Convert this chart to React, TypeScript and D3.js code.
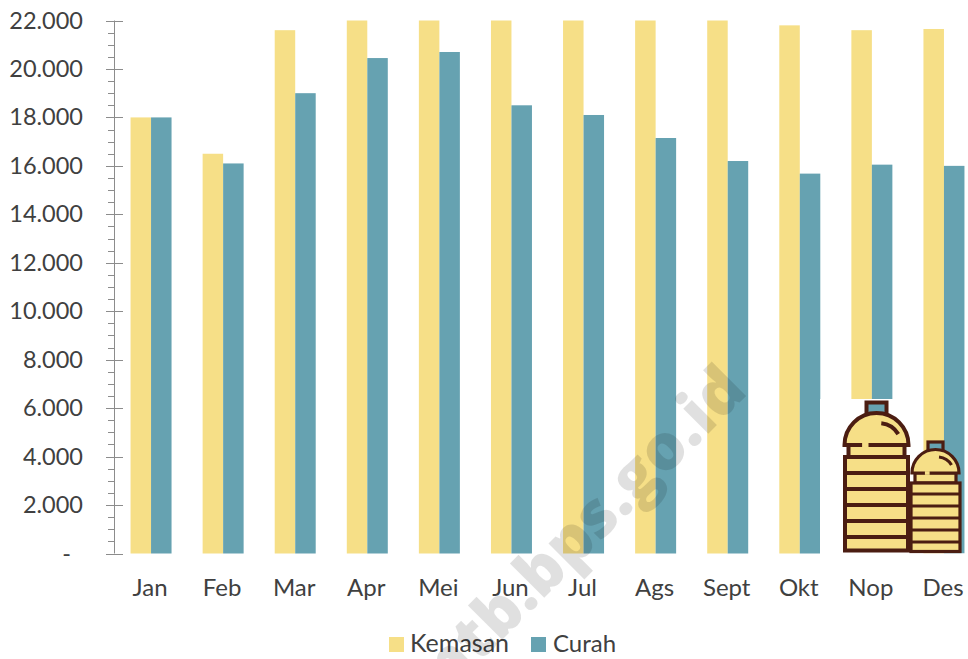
import React from "react";
import * as d3 from "d3";

const months = ["Jan","Feb","Mar","Apr","Mei","Jun","Jul","Ags","Sept","Okt","Nop","Des"];
const kemasan = [18000,16500,21600,22000,22000,22000,22000,22000,22000,21800,21600,21650];
const curah = [18000,16100,19000,20450,20700,18500,18100,17150,16200,15680,16050,16000];
const ticks = [0,2000,4000,6000,8000,10000,12000,14000,16000,18000,20000,22000];
const minor = d3.range(0,22001,500);
const YEL = "#f6df87", TEAL = "#66a2b1", TXT = "#404040", BR = "#4b1d12";
const FONT = "Lato, Carlito, sans-serif";

const y = d3.scaleLinear().domain([0,22000]).range([553.5,20.5]);
const x = d3.scaleBand<string>().domain(months).range([115,980]);
const fmt = (v:number)=> v===0 ? "-" : d3.format(",")(v).replace(",",".");

function Bottle({cx,capW,capT,domeB,domeR,neckW,bodyT,bodyB,bodyW,stripes,sw}:any){
  const capB = domeB-domeR;
  const bw=bodyW/2, nw=neckW/2;
  return <g stroke={BR} strokeWidth={sw} fill={YEL}>
    <rect x={cx-capW/2} y={capT} width={capW} height={capB-capT+2} fill={TEAL}/>
    <rect x={cx-nw} y={domeB} width={neckW} height={bodyT-domeB}/>
    <path d={`M${cx-domeR},${domeB} A${domeR},${domeR} 0 0 1 ${cx+domeR},${domeB} Z`}/>
    <path d={`M${cx+domeR*0.15},${capB+domeR*0.32} A${domeR*0.7},${domeR*0.7} 0 0 1 ${cx+domeR*0.68},${domeB-domeR*0.34}`} fill="none"/>
    <line x1={cx-domeR*0.45} x2={cx-domeR*0.25} y1={domeB} y2={domeB} stroke={YEL} strokeWidth={sw+0.5}/>
    <rect x={cx-bw} y={bodyT} width={bodyW} height={bodyB-bodyT}/>
    {stripes.map((s:number)=><line key={s} x1={cx-bw} x2={cx+bw} y1={s} y2={s}/>)}
  </g>;
}

export default function App(){
  const bw = 20.5;
  return <svg width={968} height={659} style={{position:"absolute",left:0,top:0,display:"block",fontFamily:FONT}}>
    <rect width={968} height={659} fill="#fff"/>
    {months.map((m,i)=>{
      const c = x(m)!+x.bandwidth()/2;
      return <g key={m}>
        <rect x={c-bw} y={y(kemasan[i])} width={bw} height={y(0)-y(kemasan[i])} fill={YEL}/>
        <rect x={c} y={y(curah[i])} width={bw} height={y(0)-y(curah[i])} fill={TEAL}/>
        <text x={c-1} y={596} textAnchor="middle" fontSize={24} fill={TXT}>{m}</text>
      </g>;
    })}
    <line x1={114.5} x2={114.5} y1={y(22000)} y2={y(0)} stroke="#8c8c8c" strokeWidth={1}/>
    {minor.map(v=>{
      const major = v%2000===0;
      return <line key={v} x1={major?106:108} x2={major?123:114.5} y1={Math.round(y(v))+0.5} y2={Math.round(y(v))+0.5} stroke="#8c8c8c"/>;
    })}
    {ticks.map(v=><text key={v} x={v===0?71:83} y={y(v)+8} textAnchor="end" fontSize={23.5} fill={TXT}>{fmt(v)}</text>)}
    <rect x={389} y={637} width={15} height={15} fill={YEL}/>
    <text x={410} y={652} fontSize={25} fill={TXT}>Kemasan</text>
    <rect x={531} y={637} width={15} height={15} fill={TEAL}/>
    <text x={553} y={652} fontSize={24} fill={TXT}>Curah</text>
    <text transform="translate(448,694) rotate(-45)" fontSize={64} fontWeight={800} fill="#000" fillOpacity={0.12} fontFamily="'Open Sans',sans-serif">ntb.bps.go.id</text>
    <rect x={820} y={399} width={103} height={156} fill="#fff"/>
    <rect x={923} y={553.5} width={45} height={3} fill="#fff"/>
    <Bottle cx={876.5} capW={20} capT={402.5} domeB={445} domeR={32} neckW={56} bodyT={457} bodyB={550.5} bodyW={63} stripes={[473,489,505,521,537]} sw={4}/>
    <Bottle cx={935.5} capW={15} capT={442} domeB={473} domeR={23.5} neckW={41} bodyT={483} bodyB={551.5} bodyW={49} stripes={[494,506,518,530,542]} sw={3.2}/>
  </svg>;
}
